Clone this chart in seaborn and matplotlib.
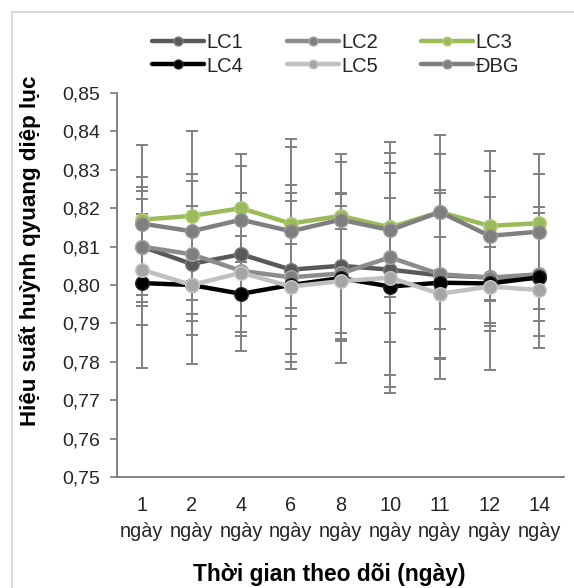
import numpy as np
import pandas as pd
import seaborn as sns
import matplotlib
matplotlib.use("Agg")
import matplotlib.pyplot as plt
from matplotlib.patches import Rectangle
from matplotlib.ticker import FuncFormatter, MultipleLocator

# ---------------- data ----------------
days = ["1\nngày", "2\nngày", "4\nngày", "6\nngày", "8\nngày",
        "10\nngày", "11\nngày", "12\nngày", "14\nngày"]
series_names = ["LC1", "LC2", "LC3", "LC4", "LC5", "ĐBG"]

lc1 = [0.810, 0.8055, 0.808, 0.804, 0.805, 0.804, 0.8025, 0.802, 0.8017]
lc2 = [0.810, 0.808, 0.8037, 0.802, 0.803, 0.8072, 0.8028, 0.8019, 0.8028]
lc3 = [0.817, 0.818, 0.820, 0.816, 0.818, 0.815, 0.819, 0.8154, 0.8161]
lc4 = [0.8005, 0.800, 0.7977, 0.800, 0.8018, 0.7996, 0.8006, 0.8004, 0.802]
lc5 = [0.804, 0.800, 0.8032, 0.7996, 0.801, 0.8019, 0.7977, 0.7996, 0.7987]
dbg = [0.816, 0.814, 0.817, 0.814, 0.817, 0.8143, 0.819, 0.8128, 0.8139]

err_lc1 = [0.0145, 0.015, 0.016, 0.022, 0.019, 0.0305, 0.0215, 0.012, 0.011]
err_lc2 = [0.0155, 0.021, 0.016, 0.022, 0.0175, 0.022, 0.022, 0.014, 0.016]
err_lc3 = [0.0195, 0.022, 0.014, 0.022, 0.016, 0.0222, 0.020, 0.0194, 0.018]
err_lc4 = [0.022, 0.0205, 0.015, 0.022, 0.022, 0.023, 0.012, 0.0226, 0.0183]
err_lc5 = [0.0145, 0.0075, 0.0165, 0.011, 0.0135, 0.030, 0.0222, 0.0104, 0.005]
err_dbg = [0.012, 0.013, 0.014, 0.022, 0.015, 0.0175, 0.015, 0.017, 0.015]

values = [lc1, lc2, lc3, lc4, lc5, dbg]
errors = [err_lc1, err_lc2, err_lc3, err_lc4, err_lc5, err_dbg]

# ---------------- style ----------------
line_colors = ["#595959", "#8c8c8c", "#9bbb59", "#000000", "#c0c0c0", "#7f7f7f"]
marker_colors = ["#595959", "#7f7f7f", "#9bbb59", "#000000", "#a6a6a6", "#7f7f7f"]
edge_colors = ["#7f7f7f", "#a6a6a6", "#b5cf7f", "#262626", "#c8c8c8", "#9a9a9a"]

sns.set_theme(style="white")
plt.rcParams["font.family"] = ["Liberation Sans", "DejaVu Sans"]

fig = plt.figure(figsize=(5.74, 5.88), dpi=100)
ax = fig.add_axes([117 / 574, 111 / 588, (564 - 117) / 574, (477 - 93) / 588])

xpos = np.arange(len(days))

# error bars (behind)
for vals, errs in zip(values, errors):
    ax.errorbar(xpos, vals, yerr=errs, fmt="none", ecolor="#808080",
                elinewidth=1.4, capsize=4.3, capthick=1.4, zorder=1)

for i, (name, vals) in enumerate(zip(series_names, values)):
    df = pd.DataFrame({"x": xpos, "y": vals})
    sns.lineplot(data=df, x="x", y="y", ax=ax, color=line_colors[i],
                 linewidth=3.2, marker="o", markersize=9.8,
                 markerfacecolor=marker_colors[i], markeredgecolor=edge_colors[i],
                 markeredgewidth=1.0, zorder=3 + i, label=name)

ax.set_xlim(-0.5, len(days) - 0.5)
ax.set_ylim(0.75, 0.85)
ax.yaxis.set_major_locator(MultipleLocator(0.01))
ax.yaxis.set_major_formatter(FuncFormatter(lambda v, p: f"{v:.2f}".replace(".", ",")))
ax.set_xticks(xpos)
ax.set_xticklabels(days)

for s in ["top", "right"]:
    ax.spines[s].set_visible(False)
for s in ["left", "bottom"]:
    ax.spines[s].set_color("#7a7a7a")
    ax.spines[s].set_linewidth(1.3)

ax.tick_params(axis="y", which="major", left=True, length=5, width=1.2,
               color="#7a7a7a", labelsize=14, labelcolor="#262626", pad=7)
ax.tick_params(axis="x", length=0, labelsize=14.3, labelcolor="#262626", pad=14)
for lbl in ax.get_xticklabels():
    lbl.set_linespacing(1.45)

ax.set_xlabel("Thời gian theo dõi (ngày)", fontsize=16.4, fontweight="bold",
              color="#000000", va="center")
ax.xaxis.set_label_coords((329 - 117) / 447, (477 - 575) / 384)
ax.set_ylabel("Hiệu suất huỳnh qyuang diệp lục", fontsize=16.1, fontweight="bold",
              color="#000000", va="center")
ax.yaxis.set_label_coords((30 - 117) / 447, (477 - 251) / 384)

# legend: rows LC1 LC2 LC3 / LC4 LC5 ĐBG
h, l = ax.get_legend_handles_labels()
order = [0, 3, 1, 4, 2, 5]
ax.legend([h[k] for k in order], [l[k] for k in order], ncol=3,
          loc="upper left", bbox_to_anchor=(136 / 574, 1 - 17 / 588),
          bbox_transform=fig.transFigure, frameon=False,
          fontsize=14.5, handlelength=2.6, columnspacing=2.15, handletextpad=0.1,
          labelspacing=0.22, markerscale=0.65, borderpad=0.3)

# outer light frame
fig.patches.append(Rectangle((12 / 574, -0.2), 1.2, (588 - 12) / 588 + 0.2,
                             transform=fig.transFigure, fill=False,
                             edgecolor="#d9d9d9", linewidth=1.5))

fig.savefig("out.png", dpi=100)
